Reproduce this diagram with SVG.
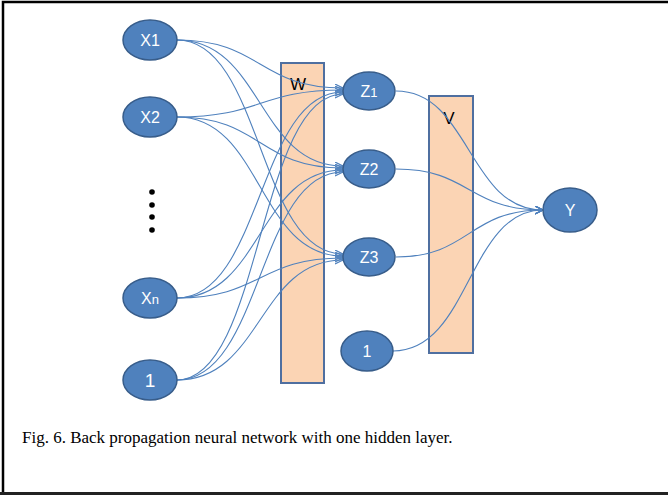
<svg xmlns="http://www.w3.org/2000/svg" width="668" height="495" viewBox="0 0 668 495">
<defs>
<marker id="arr" markerWidth="10" markerHeight="10" refX="8" refY="4" orient="auto" markerUnits="userSpaceOnUse">
<path d="M0,0 L8,4 L0,8" fill="none" stroke="#4F81BD" stroke-width="1.2"/>
</marker>
<style>
.node ellipse{fill:#4F81BD;stroke:#385D8A;stroke-width:1.5}
.node text{fill:#fff;font-family:"Liberation Sans",Arial,sans-serif;font-size:16px;text-anchor:middle}
.node text.big{font-size:19px}
.node tspan.sub{font-size:13px}
.bar{fill:#FBD4B4;stroke:#4F6FA0;stroke-width:2}
.barlabel{fill:#000;font-family:"Liberation Sans",Arial,sans-serif;font-size:17px;text-anchor:middle}
#connectors path{fill:none;stroke:#4F81BD;stroke-width:1.1;marker-end:url(#arr)}
</style>
</defs>
<rect x="0" y="0" width="668" height="495" fill="#fff"/>
<path d="M3,495 V2 H668" fill="none" stroke="#000" stroke-width="2.5"/>
<path d="M0,493.5 H668" fill="none" stroke="#222" stroke-width="3"/>

<g id="W">
<rect class="bar" x="281" y="63" width="43" height="320"/>
<text class="barlabel" x="298" y="90">W</text>
</g>
<g id="V">
<rect class="bar" x="429" y="96" width="44" height="257"/>
<text class="barlabel" x="449" y="124">V</text>
</g>

<g id="connectors">
<path d="M177,40 C262,40 258,88 343,88"/>
<path d="M177,40 C262,40 258,166 343,166"/>
<path d="M177,40 C262,40 258,254 343,254"/>
<path d="M177,117 C262,117 258,90 343,90"/>
<path d="M177,117 C262,117 258,168 343,168"/>
<path d="M177,117 C262,117 258,256 343,256"/>
<path d="M177,298 C262,298 258,92 343,92"/>
<path d="M177,298 C262,298 258,170 343,170"/>
<path d="M177,298 C262,298 258,258 343,258"/>
<path d="M177,380 C262,380 258,94 343,94"/>
<path d="M177,380 C262,380 258,172 343,172"/>
<path d="M177,380 C262,380 258,260 343,260"/>
<path d="M396,91 C470,91 468,210 543,210"/>
<path d="M396,169 C470,169 468,210 543,210"/>
<path d="M396,257 C470,257 468,210 543,210"/>
<path d="M393,351 C470,351 468,210 543,210"/>
</g>

<g id="dots" fill="#000">
<circle cx="152" cy="192" r="2.8"/>
<circle cx="152" cy="205" r="2.8"/>
<circle cx="152" cy="217" r="2.8"/>
<circle cx="152" cy="230" r="2.8"/>
</g>

<g id="x1" class="node"><ellipse cx="150" cy="40" rx="27" ry="20"/><text x="150" y="46">X1</text></g>
<g id="x2" class="node"><ellipse cx="150" cy="117" rx="27" ry="20"/><text x="150" y="123">X2</text></g>
<g id="xn" class="node"><ellipse cx="150" cy="298" rx="27" ry="20"/><text x="150" y="304">X<tspan class="sub">n</tspan></text></g>
<g id="b1" class="node"><ellipse cx="150" cy="380" rx="27" ry="20"/><text class="big" x="150" y="387">1</text></g>
<g id="z1" class="node"><ellipse cx="369" cy="91" rx="26" ry="19"/><text x="369" y="97">Z<tspan class="sub">1</tspan></text></g>
<g id="z2" class="node"><ellipse cx="369" cy="169" rx="26" ry="19"/><text x="369" y="175">Z2</text></g>
<g id="z3" class="node"><ellipse cx="369" cy="257" rx="26" ry="19"/><text x="369" y="263">Z3</text></g>
<g id="b2" class="node"><ellipse cx="367" cy="351" rx="26" ry="20"/><text x="367" y="357">1</text></g>
<g id="y" class="node"><ellipse cx="570" cy="210" rx="27" ry="22"/><text x="570" y="216">Y</text></g>

<text x="22" y="443" font-family="'Liberation Serif','Times New Roman',serif" font-size="17" fill="#000">Fig. 6. Back propagation neural network with one hidden layer.</text>
</svg>
